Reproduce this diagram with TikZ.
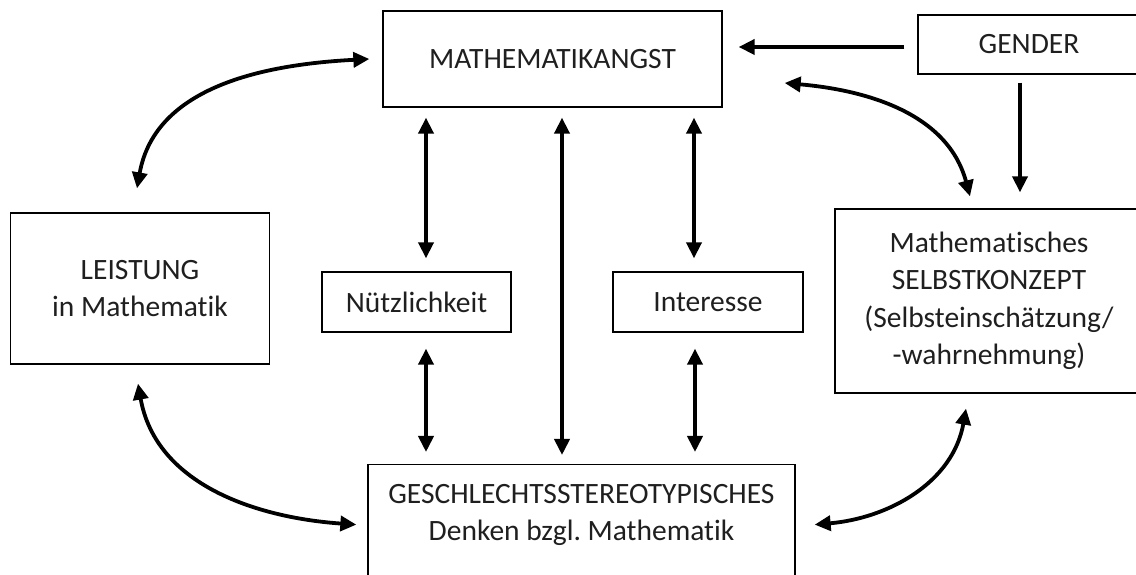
\documentclass[tikz,border=0pt]{standalone}
\usepackage{fontspec}
\setmainfont{Carlito}[Ligatures=NoCommon]
\usetikzlibrary{arrows.meta}
\frenchspacing
\begin{document}
\begin{tikzpicture}[x=1pt,y=1pt,
  box/.style={draw=black, line width=1.3pt, rectangle, inner sep=0pt,
    font=\fontsize{29.5}{37.5}\selectfont, align=center, text=black!88},
  lbl/.style={inner sep=0pt, font=\fontsize{29.5}{37.5}\selectfont, align=center, text=black!88},
  tip/.tip={Triangle[length=16pt,width=15pt]},
  con/.style={line width=3.8pt, -tip},
  dcon/.style={line width=3.8pt, tip-tip}]
\useasboundingbox (0,0) rectangle (1136,575);
\clip (0,0) rectangle (1136,575);

\node[box, minimum width=339pt, minimum height=96pt] (angst) at (552.5,516) {MATHEMATIKANGST};
\node[box, minimum width=222pt, minimum height=59pt] (gender) at (1029,530.5) {GENDER};
\node[box, minimum width=308pt, minimum height=184pt] (selbst) at (989,274)
  {Mathematisches\\SELBSTKONZEPT\\(Selbsteinschätzung/\\-wahrnehmung)};
\node[box, minimum width=258.5pt, minimum height=151pt] (leist) at (140,286.5) {LEISTUNG\\in Mathematik};
\node[box, minimum width=189pt, minimum height=60pt] (nutz) at (416.5,273) {Nützlichkeit};
\node[box, minimum width=190pt, minimum height=60pt] (inter) at (708,273) {Interesse};
\node[box, minimum width=427pt, minimum height=120pt, anchor=north] (gesch) at (581.5,111) {};
\node[lbl] (geschtxt) at (581.5,60) {GESCHLECHTSSTEREOTYPISCHES\\Denken bzgl. Mathematik};

% straight connectors
\draw[con] ([shift={(-13pt,-2.5pt)}]gender.west) -- ([shift={(16pt,-2.5pt)}]angst.east |- gender.west);
\draw[con] ([shift={(-9pt,-8pt)}]gender.south) -- ([shift={(-9pt,16pt)}]gender.south |- selbst.north);

\draw[dcon] ([shift={(9.5pt,-10pt)}]nutz.north |- angst.south) -- ([shift={(9.5pt,13pt)}]nutz.north);
\draw[dcon] ([shift={(9.5pt,-10pt)}]angst.south) -- ([shift={(9.5pt,9pt)}]angst.south |- gesch.north);
\draw[dcon] ([shift={(-14pt,-10pt)}]inter.north |- angst.south) -- ([shift={(-14pt,13pt)}]inter.north);
\draw[dcon] ([shift={(9.5pt,-16pt)}]nutz.south) -- ([shift={(9.5pt,12pt)}]nutz.south |- gesch.north);
\draw[dcon] ([shift={(-13pt,-16pt)}]inter.south) -- ([shift={(-13pt,12pt)}]inter.south |- gesch.north);

% curved connectors
\draw[dcon] ([shift={(-3pt,24pt)}]leist.north) to[out=80,in=183] ([xshift=-13pt]angst.west);
\draw[dcon] ([shift={(62pt,-24pt)}]angst.east) to[out=-5,in=105] ([shift={(-19pt,12pt)}]selbst.north);
\draw[dcon] ([shift={(-2pt,-19pt)}]leist.south) to[out=-80,in=176] ([xshift=-11pt]gesch.west);
\draw[dcon] ([shift={(-23pt,-15pt)}]selbst.south) to[out=-100,in=5] ([xshift=19pt]gesch.east);
\end{tikzpicture}
\end{document}
